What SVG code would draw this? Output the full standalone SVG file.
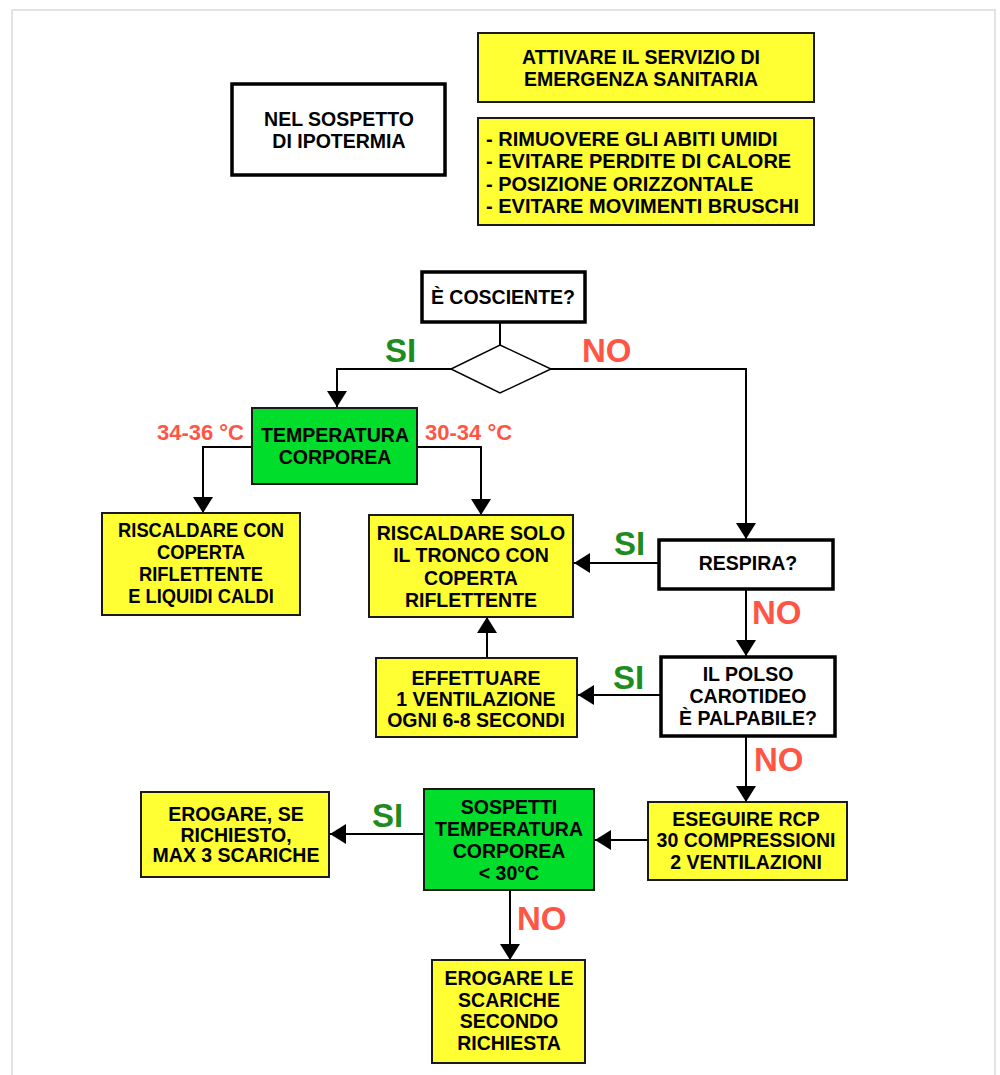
<svg xmlns="http://www.w3.org/2000/svg" width="1000" height="1075" viewBox="0 0 1000 1075">
  <defs>
    <style>
      .frame { fill: none; stroke: #e2e2e2; stroke-width: 2; }
      .box-w { fill: #ffffff; stroke: #000000; stroke-width: 3.5; }
      .box-y { fill: #ffff33; stroke: #1a1a1a; stroke-width: 2; }
      .box-g { fill: #00dd2a; stroke: #1a1a1a; stroke-width: 2; }
      .t { font-family: "Liberation Sans", Arial, sans-serif; font-weight: bold; font-size: 19.5px; fill: #000000; text-anchor: middle; }
      .tl { text-anchor: start; }
      .lbl { font-family: "Liberation Sans", Arial, sans-serif; font-weight: bold; font-size: 33px; }
      .si { fill: #1e8c1e; }
      .no { fill: #ff5544; }
      .deg { font-family: "Liberation Sans", Arial, sans-serif; font-weight: bold; font-size: 22px; fill: #ff5544; }
      .conn { fill: none; stroke: #000000; stroke-width: 2; }
    </style>
    <marker id="arrow" markerUnits="userSpaceOnUse" markerWidth="17" markerHeight="20" refX="16" refY="10" orient="auto" viewBox="0 0 17 20">
      <path d="M0,0 L16,10 L0,20 Z" fill="#000000"/>
    </marker>
  </defs>

  <rect width="1000" height="1075" fill="#ffffff"/>
  <path class="frame" d="M12,1075 V10 H995 V1075"/>

  <!-- connectors -->
  <g id="connectors">
    <path class="conn" d="M500,322 V345"/>
    <path class="conn" d="M451,369 H337 V407" marker-end="url(#arrow)"/>
    <path class="conn" d="M551,369 H746 V539" marker-end="url(#arrow)"/>
    <path class="conn" d="M252,447 H203 V513" marker-end="url(#arrow)"/>
    <path class="conn" d="M417,447 H481 V515" marker-end="url(#arrow)"/>
    <path class="conn" d="M658,563 H574" marker-end="url(#arrow)"/>
    <path class="conn" d="M746,589 V656" marker-end="url(#arrow)"/>
    <path class="conn" d="M660,695 H578" marker-end="url(#arrow)"/>
    <path class="conn" d="M487,658 V617" marker-end="url(#arrow)"/>
    <path class="conn" d="M746,736 V802" marker-end="url(#arrow)"/>
    <path class="conn" d="M648,840 H595" marker-end="url(#arrow)"/>
    <path class="conn" d="M424,834 H330" marker-end="url(#arrow)"/>
    <path class="conn" d="M510,890 V960" marker-end="url(#arrow)"/>

    <text class="lbl si" x="385" y="362">SI</text>
    <text class="lbl no" x="582" y="362">NO</text>
    <text class="deg" x="244" y="440" text-anchor="end">34-36 °C</text>
    <text class="deg" x="425" y="440">30-34 °C</text>
    <text class="lbl si" x="614" y="555">SI</text>
    <text class="lbl no" x="752" y="624">NO</text>
    <text class="lbl si" x="613" y="689">SI</text>
    <text class="lbl no" x="754" y="771">NO</text>
    <text class="lbl si" x="372" y="827">SI</text>
    <text class="lbl no" x="517" y="930">NO</text>
  </g>

  <!-- start -->
  <g id="sospetto">
    <rect class="box-w" x="232" y="84" width="213" height="91"/>
    <text class="t"><tspan x="339" y="126">NEL SOSPETTO</tspan><tspan x="339" y="148">DI IPOTERMIA</tspan></text>
  </g>

  <g id="attivare">
    <rect class="box-y" x="478" y="33" width="336" height="69"/>
    <text class="t"><tspan x="641" y="64">ATTIVARE IL SERVIZIO DI</tspan><tspan x="641" y="86">EMERGENZA SANITARIA</tspan></text>
  </g>

  <g id="precauzioni">
    <rect class="box-y" x="478" y="118" width="336" height="107"/>
    <text class="t tl" style="font-size:20px"><tspan x="486" y="146">- RIMUOVERE GLI ABITI UMIDI</tspan><tspan x="486" y="168">- EVITARE PERDITE DI CALORE</tspan><tspan x="486" y="191">- POSIZIONE ORIZZONTALE</tspan><tspan x="486" y="213">- EVITARE MOVIMENTI BRUSCHI</tspan></text>
  </g>

  <g id="cosciente">
    <rect class="box-w" x="422" y="272" width="163" height="50"/>
    <text class="t"><tspan x="503" y="304">È COSCIENTE?</tspan></text>
  </g>

  <g id="decisione">
    <path d="M500,345 L551,369 L500,393 L451,369 Z" fill="#ffffff" stroke="#000000" stroke-width="1.5"/>
  </g>

  <g id="temperatura">
    <rect class="box-g" x="252" y="408" width="165" height="76"/>
    <text class="t"><tspan x="335" y="442">TEMPERATURA</tspan><tspan x="335" y="464">CORPOREA</tspan></text>
  </g>

  <g id="riscaldare-con">
    <rect class="box-y" x="102" y="513" width="198" height="102"/>
    <text class="t" transform="translate(201 0) scale(0.94 1)"><tspan x="0" y="537">RISCALDARE CON</tspan><tspan x="0" y="559">COPERTA</tspan><tspan x="0" y="581">RIFLETTENTE</tspan><tspan x="0" y="603">E LIQUIDI CALDI</tspan></text>
  </g>

  <g id="riscaldare-solo">
    <rect class="box-y" x="369" y="515" width="204" height="102"/>
    <text class="t"><tspan x="471" y="540">RISCALDARE SOLO</tspan><tspan x="471" y="562">IL TRONCO CON</tspan><tspan x="471" y="585">COPERTA</tspan><tspan x="471" y="607">RIFLETTENTE</tspan></text>
  </g>

  <g id="respira">
    <rect class="box-w" x="659" y="540" width="174" height="49"/>
    <text class="t"><tspan x="748" y="570">RESPIRA?</tspan></text>
  </g>

  <g id="polso">
    <rect class="box-w" x="661" y="657" width="174" height="79"/>
    <text class="t"><tspan x="748" y="681">IL POLSO</tspan><tspan x="748" y="703">CAROTIDEO</tspan><tspan x="748" y="725">È PALPABILE?</tspan></text>
  </g>

  <g id="ventilazione">
    <rect class="box-y" x="376" y="658" width="201" height="79"/>
    <text class="t"><tspan x="476" y="685">EFFETTUARE</tspan><tspan x="476" y="706">1 VENTILAZIONE</tspan><tspan x="476" y="727">OGNI 6-8 SECONDI</tspan></text>
  </g>

  <g id="rcp">
    <rect class="box-y" x="648" y="802" width="199" height="78"/>
    <text class="t"><tspan x="746" y="826">ESEGUIRE RCP</tspan><tspan x="746" y="847">30 COMPRESSIONI</tspan><tspan x="746" y="869">2 VENTILAZIONI</tspan></text>
  </g>

  <g id="sospetti">
    <rect class="box-g" x="424" y="789" width="170" height="101"/>
    <text class="t"><tspan x="509" y="814">SOSPETTI</tspan><tspan x="509" y="836">TEMPERATURA</tspan><tspan x="509" y="858">CORPOREA</tspan><tspan x="509" y="880">&lt; 30°C</tspan></text>
  </g>

  <g id="max-scariche">
    <rect class="box-y" x="141" y="792" width="188" height="85"/>
    <text class="t"><tspan x="236" y="821">EROGARE, SE</tspan><tspan x="236" y="842">RICHIESTO,</tspan><tspan x="236" y="862">MAX 3 SCARICHE</tspan></text>
  </g>

  <g id="scariche">
    <rect class="box-y" x="432" y="960" width="153" height="103"/>
    <text class="t"><tspan x="509" y="985">EROGARE LE</tspan><tspan x="509" y="1007">SCARICHE</tspan><tspan x="509" y="1028">SECONDO</tspan><tspan x="509" y="1050">RICHIESTA</tspan></text>
  </g>
</svg>
